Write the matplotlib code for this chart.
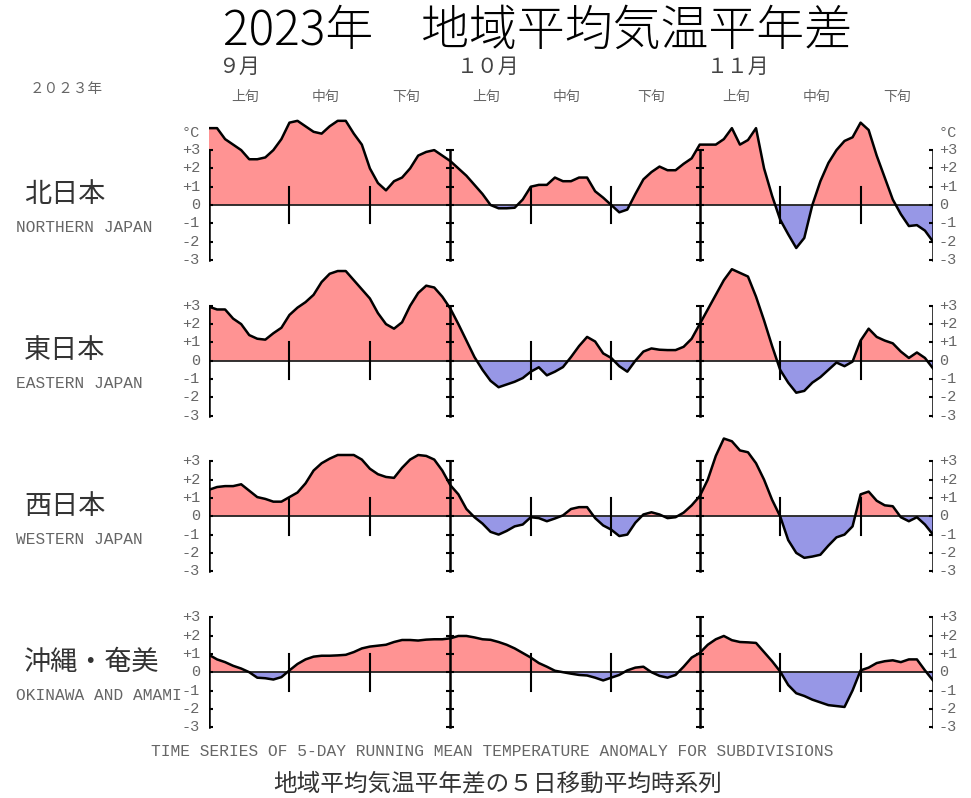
import matplotlib.pyplot as plt
import numpy as np

plt.rcParams['font.family'] = ['Noto Sans CJK JP', 'DejaVu Sans']

W, H = 971, 798

# Sep 1 .. Nov 30, 5-day running mean anomaly (degC)
days = np.arange(91)

north = [4.2, 4.2, 3.6, 3.3, 3.0, 2.5, 2.5, 2.6, 3.0, 3.6,
         4.5, 4.6, 4.3, 4.0, 3.9, 4.3, 4.6, 4.6, 3.9, 3.3,
         2.0, 1.2, 0.8, 1.3, 1.5, 2.0, 2.7, 2.9, 3.0, 2.7,
         2.4, 2.0, 1.6, 1.1, 0.6, 0.0, -0.18, -0.18, -0.15, 0.3,
         1.0, 1.1, 1.1, 1.5, 1.3, 1.3, 1.5, 1.5, 0.75, 0.4,
         0.0, -0.4, -0.25, 0.6, 1.4, 1.8, 2.1, 1.9, 1.9, 2.25,
         2.55, 3.3, 3.3, 3.3, 3.6, 4.2, 3.3, 3.55, 4.2, 2.0,
         0.5, -0.8, -1.6, -2.35, -1.8, 0.0, 1.3, 2.3, 3.0, 3.5,
         3.7, 4.5, 4.1, 2.7, 1.5, 0.3, -0.5, -1.15, -1.1, -1.4,
         -2.0]

east = [2.95, 2.8, 2.8, 2.3, 2.0, 1.4, 1.2, 1.15, 1.5, 1.8,
        2.5, 2.9, 3.2, 3.6, 4.3, 4.75, 4.9, 4.9, 4.4, 3.9,
        3.4, 2.6, 2.0, 1.75, 2.1, 3.0, 3.7, 4.1, 4.0, 3.5,
        2.85, 2.0, 1.1, 0.2, -0.5, -1.1, -1.45, -1.3, -1.15, -0.95,
        -0.6, -0.36, -0.8, -0.6, -0.35, 0.2, 0.8, 1.3, 1.05, 0.4,
        0.15, -0.3, -0.6, 0.0, 0.5, 0.67, 0.6, 0.58, 0.58, 0.76,
        1.2, 2.0, 2.8, 3.6, 4.4, 5.0, 4.8, 4.6, 3.5, 2.2,
        0.8, -0.5, -1.2, -1.75, -1.65, -1.2, -0.9, -0.5, -0.1, -0.3,
        -0.05, 1.1, 1.75, 1.3, 1.1, 0.95, 0.5, 0.15, 0.45, 0.15,
        -0.42]

west = [1.45, 1.6, 1.65, 1.65, 1.75, 1.4, 1.05, 0.95, 0.8, 0.8,
        1.05, 1.3, 1.8, 2.5, 2.9, 3.15, 3.35, 3.35, 3.35, 3.1,
        2.6, 2.3, 2.15, 2.1, 2.65, 3.1, 3.35, 3.3, 3.1, 2.5,
        1.7, 1.2, 0.4, -0.05, -0.4, -0.85, -1.0, -0.8, -0.55, -0.45,
        -0.05, -0.1, -0.27, -0.12, 0.05, 0.4, 0.5, 0.5, -0.1, -0.5,
        -0.73, -1.08, -1.0, -0.35, 0.1, 0.22, 0.1, -0.1, -0.05, 0.2,
        0.6, 1.1, 2.0, 3.3, 4.25, 4.1, 3.6, 3.5, 2.9, 2.0,
        0.9, 0.0, -1.3, -2.0, -2.27, -2.2, -2.1, -1.6, -1.15, -1.0,
        -0.55, 1.2, 1.35, 0.85, 0.6, 0.55, -0.05, -0.27, -0.05, -0.45,
        -1.0]

okinawa = [0.95, 0.7, 0.55, 0.35, 0.2, 0.0, -0.3, -0.33, -0.4, -0.27,
           0.1, 0.45, 0.7, 0.85, 0.9, 0.9, 0.92, 0.95, 1.1, 1.3,
           1.4, 1.45, 1.5, 1.65, 1.76, 1.76, 1.73, 1.78, 1.8, 1.8,
           1.85, 1.98, 1.98, 1.9, 1.8, 1.77, 1.65, 1.5, 1.3, 1.05,
           0.8, 0.5, 0.3, 0.08, 0.0, -0.08, -0.15, -0.18, -0.3, -0.45,
           -0.3, -0.15, 0.1, 0.25, 0.3, 0.0, -0.2, -0.3, -0.15, 0.3,
           0.8, 1.05, 1.5, 1.8, 1.98, 1.75, 1.65, 1.63, 1.6, 1.1,
           0.6, 0.04, -0.7, -1.15, -1.3, -1.5, -1.65, -1.8, -1.85, -1.9,
           -1.0, 0.1, 0.25, 0.5, 0.6, 0.65, 0.55, 0.7, 0.7, 0.1,
           -0.45]

series = [north, east, west, okinawa]
regions_jp = ['北日本', '東日本', '西日本', '沖縄・奄美']
regions_en = ['NORTHERN JAPAN', 'EASTERN JAPAN', 'WESTERN JAPAN', 'OKINAWA AND AMAMI']
months = ['９月', '１０月', '１１月']
dekads = ['上旬', '中旬', '下旬']
dekad_starts = [0, 10, 20, 30, 40, 50, 61, 71, 81, 91]
month_lines = [0, 30, 61, 90]
tick_vals = [3, 2, 1, 0, -1, -2, -3]
tick_labels = ['+3', '+2', '+1', '0', '-1', '-2', '-3']

pink = '#ff9393'
blue = '#9797e6'
grey = '#666666'
mono = ['Liberation Mono', 'DejaVu Sans Mono']

fig = plt.figure(figsize=(W / 100, H / 100), dpi=100)


def fx(px):
    return px / W


def fy(py):
    return 1 - py / H


# panel geometry (pixels)
x0, x1 = 209, 933
zeros = [205, 360.7, 516.3, 672.2]
ppd = 18.3
ylo, yhi = -3.4, 5.2

for i, vals in enumerate(series):
    z = zeros[i]
    bot = z - ylo * ppd
    top = z - yhi * ppd
    ax = fig.add_axes([fx(x0), fy(bot), fx(x1 - x0), (bot - top) / H])
    ax.set_xlim(0, 90)
    ax.set_ylim(ylo, yhi)
    ax.axis('off')
    v = np.array(vals)
    ax.fill_between(days, v, 0, where=v >= 0, interpolate=True, color=pink, lw=0)
    ax.fill_between(days, v, 0, where=v <= 0, interpolate=True, color=blue, lw=0)
    ax.plot([0, 90], [0, 0], color='#222222', lw=1.3)
    ax.plot(days, v, color='black', lw=1.8, solid_joinstyle='round')

    # month axes with ticks
    for d in month_lines:
        ax.plot([d, d], [-3, 3], color='black', lw=1.8)
        ax.hlines(tick_vals, d - 0.5, d + 0.5, color='black', lw=1.5)
    # dekad ticks
    for d in dekad_starts[1:-1]:
        if d not in month_lines:
            ax.plot([d, d], [-1, 1], color='black', lw=1.5)

    for tv, tl in zip(tick_vals, tick_labels):
        ax.text(-1.1, tv, tl, ha='right', va='center', fontsize=11,
                color=grey, family=mono, clip_on=False)
        ax.text(90.7, tv, tl, ha='left', va='center', fontsize=11,
                color=grey, family=mono, clip_on=False)
    if i == 0:
        ax.text(-1.1, 3.95, '°C', ha='right', va='center', fontsize=11,
                color=grey, family=mono, clip_on=False)
        ax.text(90.7, 3.95, '°C', ha='left', va='center', fontsize=11,
                color=grey, family=mono, clip_on=False)

    fig.text(fx(24), fy(z - 10), regions_jp[i], ha='left', va='center',
             fontsize=19.5, color='#333333')
    fig.text(fx(16), fy(z + 23), regions_en[i], ha='left', va='center',
             fontsize=11.7, color=grey, family=mono)

# month and dekad labels along the top
for k in range(9):
    mid = (dekad_starts[k] + dekad_starts[k + 1]) / 2 - 0.5
    xp = x0 + mid * (x1 - x0) / 90
    fig.text(fx(xp), fy(97), dekads[k % 3], ha='center', va='center',
             fontsize=10, color=grey)
    if k % 3 == 0:
        shift = -6 if k == 0 else 2
        fig.text(fx(xp + shift), fy(67), months[k // 3], ha='center',
                 va='center', fontsize=15, color='#444444')

fig.text(fx(66), fy(89), '２０２３年', ha='center', va='center',
         fontsize=10.5, color=grey)

fig.text(fx(537), fy(31), '2023年　地域平均気温平年差', ha='center',
         va='center', fontsize=34.5, color='black', fontweight='light')

fig.text(fx(492), fy(752),
         'TIME SERIES OF 5-DAY RUNNING MEAN TEMPERATURE ANOMALY FOR SUBDIVISIONS',
         ha='center', va='center', fontsize=11.7, color=grey, family=mono)
fig.text(fx(498), fy(784), '地域平均気温平年差の５日移動平均時系列',
         ha='center', va='center', fontsize=17, color='#333333')

fig.savefig('out.png', dpi=100)
